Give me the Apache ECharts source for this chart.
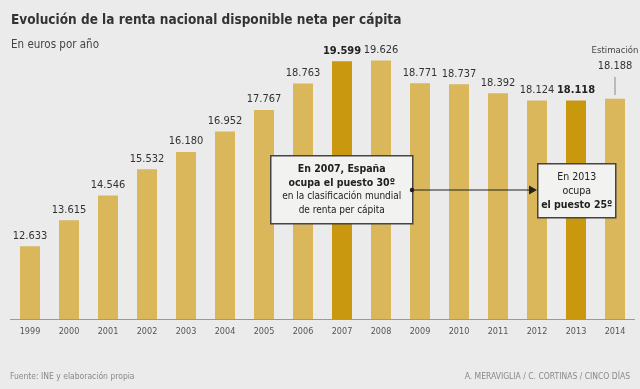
<!DOCTYPE html>
<html>
<head>
<meta charset="utf-8">
<script src="https://cdn.jsdelivr.net/npm/echarts@6/dist/echarts.min.js"></script>
<style>
html, body { margin: 0; padding: 0; background: #ebebeb; }
#chart { width: 640px; height: 389px; }
</style>
</head>
<body>
<div id="chart"></div>
<script>
// años y renta (euros por año)
var years = ['1999', '2000', '2001', '2002', '2003', '2004', '2005', '2006',
    '2007', '2008', '2009', '2010', '2011', '2012', '2013', '2014'];
var renta = [12633, 13615, 14546, 15532, 16180, 16952, 17767, 18763,
    19599, 19626, 18771, 18737, 18392, 18124, 18118, 18188];
var destacados = ['2007', '2013'];
var estimado = '2014';

var FONT = '"Liberation Sans Narrow", "DejaVu Sans Condensed", sans-serif';
var GOLD = '#d9b75a';
var GOLD_DARK = '#c9980f';

function miles(v) {
    return String(v).replace(/\B(?=(\d{3})+(?!\d))/g, '.');
}

var barData = years.map(function (y, i) {
    var item = { value: renta[i] };
    if (destacados.indexOf(y) >= 0) {
        item.itemStyle = { color: GOLD_DARK };
        item.label = { fontWeight: 'bold', color: '#222' };
    }
    if (y === estimado) {
        item.label = {
            distance: 24,
            formatter: function (p) { return '{e|Estimación}\n' + miles(p.value); },
            lineHeight: 17,
            rich: { e: { fontSize: 9.5, color: '#444', fontFamily: FONT, lineHeight: 15 } }
        };
    }
    return item;
});

var chart = echarts.init(document.getElementById('chart'));
var option = {
    backgroundColor: '#ebebeb',
    animation: false,
    textStyle: { fontFamily: FONT },
    title: [
        { text: 'Evolución de la renta nacional disponible neta per cápita', left: 6, top: 8,
          textStyle: { fontSize: 13.5, fontWeight: 'bold', color: '#333', fontFamily: FONT } },
        { text: 'En euros por año', left: 6, top: 34,
          textStyle: { fontSize: 11.5, fontWeight: 'normal', color: '#444', fontFamily: FONT } },
        { text: 'Fuente: INE y elaboración propia', left: 5, top: 367,
          textStyle: { fontSize: 8.5, fontWeight: 'normal', color: '#888', fontFamily: FONT } },
        { text: 'A. MERAVIGLIA / C. CORTINAS / CINCO DÍAS', right: 5, top: 367,
          textStyle: { fontSize: 8.5, fontWeight: 'normal', color: '#888', fontFamily: FONT } }
    ],
    grid: { left: 10.5, right: 5.5, top: 24, bottom: 70 },
    xAxis: {
        type: 'category',
        data: years,
        axisTick: { show: false },
        axisLine: { lineStyle: { color: '#999', width: 1 } },
        axisLabel: { color: '#555', fontSize: 9, margin: 8, fontFamily: FONT }
    },
    yAxis: {
        type: 'value',
        min: 9900,
        max: 21000,
        show: false,
        splitLine: { show: false }
    },
    series: [{
        type: 'bar',
        data: barData,
        barWidth: 20,
        itemStyle: { color: GOLD },
        label: {
            show: true,
            position: 'top',
            distance: 5,
            fontSize: 11,
            color: '#333',
            fontFamily: FONT,
            formatter: function (p) { return miles(p.value); }
        }
    }],
    graphic: [
        // línea de la estimación
        { type: 'line', shape: { x1: 615, y1: 77, x2: 615, y2: 95 }, style: { stroke: '#888', lineWidth: 1 }, z: 100 },
        // flecha entre cuadros
        { type: 'line', shape: { x1: 412, y1: 190, x2: 532, y2: 190 }, style: { stroke: '#222', lineWidth: 1.2 }, z: 100 },
        { type: 'circle', shape: { cx: 412, cy: 190, r: 2.2 }, style: { fill: '#222' }, z: 101 },
        { type: 'polygon', shape: { points: [[537, 190], [529, 185.5], [529, 194.5]] }, style: { fill: '#222' }, z: 101 },
        {
            type: 'group', left: 270, top: 155, z: 100,
            children: [
                { type: 'rect', z: 100, shape: { x: 0, y: 0, width: 142, height: 68 },
                  style: { fill: '#f2f2f0', stroke: '#444', lineWidth: 1.5 } },
                { type: 'text', z: 101, x: 71, y: 7, style: {
                    text: '{b|En 2007, España}\n{b|ocupa el puesto 30º}\n{n|en la clasificación mundial}\n{n|de renta per cápita}',
                    align: 'center', verticalAlign: 'top', lineHeight: 13.5,
                    rich: {
                        b: { fontSize: 10.5, fontWeight: 'bold', fill: '#222', fontFamily: FONT, lineHeight: 13.5 },
                        n: { fontSize: 10, fill: '#222', fontFamily: FONT, lineHeight: 13.5 }
                    } } }
            ]
        },
        {
            type: 'group', left: 537, top: 163, z: 100,
            children: [
                { type: 'rect', z: 100, shape: { x: 0, y: 0, width: 78, height: 54 },
                  style: { fill: '#f2f2f0', stroke: '#444', lineWidth: 1.5 } },
                { type: 'text', z: 101, x: 39, y: 7, style: {
                    text: '{n|En 2013}\n{n|ocupa}\n{b|el puesto 25º}',
                    align: 'center', verticalAlign: 'top', lineHeight: 14,
                    rich: {
                        b: { fontSize: 10.5, fontWeight: 'bold', fill: '#222', fontFamily: FONT, lineHeight: 14 },
                        n: { fontSize: 10.5, fill: '#222', fontFamily: FONT, lineHeight: 14 }
                    } } }
            ]
        }
    ]
};
chart.setOption(option);
</script>
</body>
</html>
